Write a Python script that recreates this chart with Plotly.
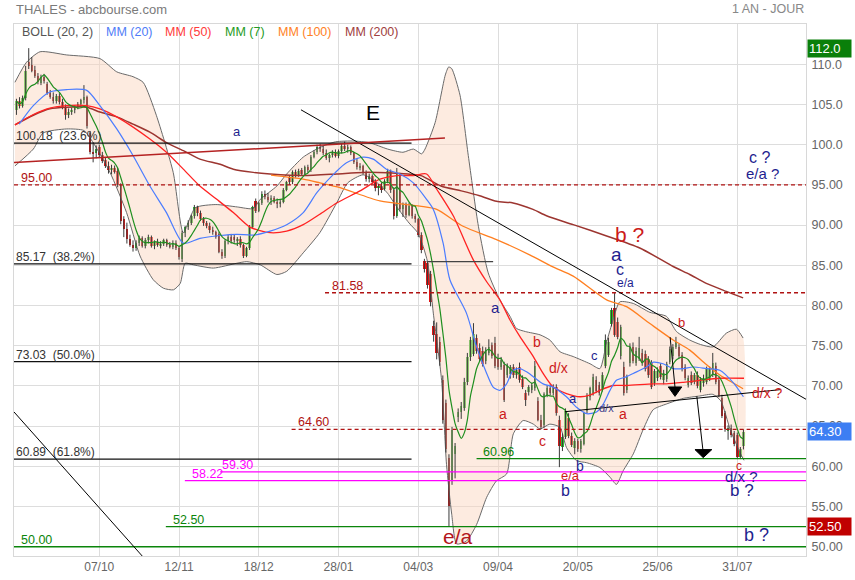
import pandas as pd
import plotly.graph_objects as go

# ---------------- daily candles (index = trading day) ----------------
opens = [104.3,105.4,104.8,105.8,110.3,109.9,109.3,108.5,107.7,108.4,
         107.5,106.4,105.9,105.4,106.1,105.3,104.7,103.7,104.1,104.3,
         104.7,105.1,105.5,105.9,101.5,99.1,98.9,99.7,98.7,98.1,
         97.4,96.9,97.1,96.7,95.0,90.7,89.5,88.3,87.5,87.1,
         87.8,88.4,87.4,88.1,88.5,87.4,87.9,87.5,87.7,88.1,
         87.5,87.3,87.8,87.1,85.8,89.0,89.7,90.3,91.1,92.2,
         91.5,90.7,90.2,89.9,89.4,89.1,88.9,86.7,86.1,88.0,
         88.5,88.5,88.1,88.3,87.5,86.2,87.1,89.8,93.0,91.8,
         92.7,93.9,93.5,93.1,93.4,92.9,92.6,92.9,94.4,96.0,
         95.3,96.6,96.2,96.9,96.4,97.2,96.8,98.5,99.1,99.7,
         99.5,99.0,98.4,98.7,99.1,98.6,99.2,99.8,99.4,99.7,
         98.9,97.8,97.2,97.4,96.5,95.7,96.1,95.4,94.6,94.9,
         94.5,95.5,96.7,94.3,91.1,96.1,92.0,92.5,91.3,92.4,
         91.1,90.7,88.8,85.5,85.3,83.9,77.5,76.5,75.5,70.7,
         67.9,61.0,58.3,61.5,66.1,66.7,67.3,70.5,73.6,74.0,
         76.0,74.7,74.3,73.1,74.1,75.1,75.3,73.5,72.4,72.6,
         71.3,71.5,72.3,71.3,72.4,70.9,69.1,69.2,69.5,69.7,
         68.1,65.8,65.1,68.9,69.8,69.1,69.9,65.8,62.4,63.7,
         66.0,63.8,62.3,63.1,62.1,62.8,66.9,68.6,69.1,70.7,
         70.1,69.6,72.5,73.9,77.7,79.7,78.0,73.7,72.4,69.5,
         72.8,74.9,72.9,73.4,74.1,74.0,73.3,72.8,70.4,71.0,
         72.5,70.7,70.9,73.0,73.7,74.9,74.9,73.9,72.4,70.1,
         71.4,70.5,71.4,69.5,70.3,70.5,70.9,71.4,72.5,70.7,
         68.5,66.6,64.4,64.8,64.1,63.9,61.2,62.5]
highs = [105.7,105.9,106.1,109.8,112.0,110.9,109.8,108.9,108.7,108.8,
         107.8,106.8,106.5,106.3,106.4,105.7,105.0,104.5,104.6,104.9,
         105.3,105.7,107.4,106.1,101.7,100.3,99.9,100.0,99.1,98.4,
         97.9,97.5,97.4,97.1,95.2,91.1,90.3,88.8,88.1,88.1,
         88.7,88.6,88.4,88.8,88.7,88.1,88.3,88.0,88.3,88.3,
         87.9,88.1,88.1,87.4,89.3,89.9,90.6,91.3,92.5,92.4,
         91.8,91.0,90.5,90.3,89.8,89.3,89.1,87.0,88.2,88.8,
         88.9,88.8,88.5,88.6,87.7,87.3,90.0,92.4,93.3,92.9,
         94.2,94.3,94.0,93.7,93.6,93.3,93.1,94.6,95.5,96.2,
         96.8,96.9,97.0,97.1,97.4,97.5,98.7,99.3,100.0,100.1,
         99.9,99.4,98.9,99.3,99.4,99.4,100.1,100.4,100.0,99.9,
         99.1,98.2,97.7,97.5,96.8,96.4,96.3,95.7,95.1,95.3,
         95.7,97.0,96.9,94.7,97.1,96.5,92.8,92.8,92.8,92.6,
         91.4,90.9,89.1,85.8,85.5,84.3,78.1,77.9,76.1,71.3,
         68.3,61.5,64.9,62.9,67.2,68.0,71.0,74.1,76.1,77.8,
         76.4,75.3,74.9,74.8,75.8,75.4,76.1,74.0,73.6,73.0,
         72.8,72.6,72.7,72.3,72.9,71.3,69.5,70.1,70.4,73.1,
         68.6,66.4,69.2,70.1,70.2,70.2,70.2,66.3,64.1,67.2,
         66.6,64.2,63.5,63.4,63.4,66.8,69.1,69.9,71.5,71.2,
         70.5,71.7,76.4,76.0,79.7,81.6,78.5,77.6,73.0,71.4,
         75.3,75.4,74.8,76.1,74.6,74.4,73.7,73.2,72.1,72.3,
         72.8,72.0,73.0,74.9,75.2,76.1,75.2,74.2,72.7,71.3,
         71.8,71.6,71.8,71.1,71.4,72.4,72.4,74.1,72.9,71.1,
         68.9,66.9,65.1,65.2,64.4,64.2,62.4,64.6]
lows = [103.7,104.5,104.6,105.5,109.4,109.0,108.3,107.5,107.4,107.6,
        106.2,105.7,105.1,105.1,105.0,104.4,103.1,103.3,103.7,103.9,
        104.4,104.7,105.1,102.0,98.8,97.8,98.3,98.4,97.7,97.1,
        96.4,96.3,96.4,94.7,90.1,88.5,87.7,87.3,86.7,86.8,
        87.4,87.2,87.1,87.7,87.2,87.0,87.3,87.1,87.4,87.3,
        87.1,87.0,86.9,85.7,85.4,88.5,89.4,90.0,90.8,91.1,
        90.5,89.9,89.6,89.0,88.8,88.3,86.5,85.8,85.9,87.6,
        87.7,87.8,87.4,87.2,85.9,86.0,86.9,89.6,91.5,91.6,
        92.5,93.2,92.8,92.5,92.7,92.1,92.2,92.7,94.2,95.0,
        95.1,95.9,96.0,96.2,96.2,96.5,96.6,98.3,98.8,99.1,
        98.7,98.1,97.8,98.4,98.4,98.3,98.9,99.2,99.0,98.7,
        97.6,96.9,96.8,96.3,95.4,95.3,95.1,94.2,93.7,94.0,
        94.3,95.2,94.0,90.7,90.9,91.7,91.0,90.9,91.1,90.8,
        90.3,88.5,86.5,84.1,82.1,79.9,75.5,73.3,72.5,65.3,
        61.7,52.5,57.7,58.5,65.5,65.9,66.9,70.1,73.1,73.7,
        74.0,73.0,72.4,72.7,73.8,73.4,72.2,72.0,72.0,68.0,
        71.0,70.9,71.0,70.9,70.4,69.6,67.5,68.8,69.1,69.4,
        65.6,64.6,64.8,68.6,68.8,68.8,66.3,59.9,61.9,63.4,
        63.5,62.4,61.5,61.8,61.7,62.6,66.6,68.2,68.8,69.1,
        68.8,69.3,72.2,73.6,77.4,76.1,75.8,73.3,68.8,69.1,
        72.4,72.8,72.5,73.1,72.5,71.8,71.0,69.6,70.0,70.6,
        70.8,70.2,70.5,72.7,73.3,74.6,73.4,71.8,70.7,69.8,
        70.1,70.2,69.7,69.2,69.9,70.2,70.6,71.1,70.2,68.6,
        66.0,64.3,63.3,63.6,62.5,60.9,60.9,62.1]
closes = [105.4,104.8,105.8,109.1,109.8,109.2,108.5,107.8,108.4,107.9,
          106.4,105.9,105.4,106.1,105.3,104.7,103.7,104.1,104.3,104.7,
          105.1,105.5,105.9,102.3,99.1,98.9,99.4,98.7,98.0,97.3,
          96.9,97.1,96.6,95.0,90.5,89.5,88.3,87.5,87.1,87.8,
          88.4,87.4,88.1,88.5,87.4,87.9,87.5,87.7,88.1,87.5,
          87.3,87.8,87.1,86.0,89.0,89.7,90.3,91.1,92.2,91.5,
          90.7,90.2,89.9,89.4,89.1,88.5,86.7,86.1,88.0,88.5,
          88.0,88.1,88.3,87.5,86.2,87.1,89.8,92.2,91.8,92.7,
          93.9,93.5,93.1,93.4,92.9,92.6,92.9,94.4,95.3,95.3,
          96.6,96.2,96.7,96.4,97.2,96.8,98.5,99.1,99.7,99.5,
          99.0,98.4,98.7,99.1,98.6,99.2,99.8,99.4,99.7,98.9,
          97.8,97.2,97.4,96.5,95.7,96.1,95.4,94.6,94.9,94.3,
          95.5,96.7,94.3,91.1,96.4,92.0,92.5,91.3,92.4,91.1,
          90.7,88.8,86.9,84.5,82.5,80.4,76.3,74.1,73.0,65.7,
          62.2,55.1,64.5,62.5,66.8,67.5,70.5,73.6,75.7,76.5,
          74.3,73.3,72.7,74.4,74.9,73.7,72.5,72.4,73.2,68.3,
          72.5,72.3,71.3,72.0,70.7,69.9,68.3,69.9,70.1,72.5,
          65.8,64.9,69.0,69.8,69.1,69.9,66.6,62.5,63.7,66.9,
          63.8,62.7,63.1,62.1,63.2,66.6,68.8,69.7,71.1,69.4,
          69.1,71.3,75.7,75.5,79.4,76.3,76.1,77.3,69.1,71.1,
          74.9,73.1,74.3,74.7,72.8,72.1,71.3,69.9,71.8,71.9,
          71.1,71.6,72.7,74.6,74.9,75.5,73.7,72.1,71.0,71.0,
          70.4,71.3,70.0,70.8,71.0,72.1,72.1,72.9,70.5,68.9,
          66.3,64.6,64.8,63.9,62.8,61.2,62.1,64.3]

tick_idx = [27, 53, 79, 105, 131, 157, 183, 209, 235]
tick_labels = ["07/10", "12/11", "18/12", "28/01", "04/03", "09/04", "20/05", "25/06", "31/07"]

# ---------------- indicators (index, value) ----------------
mm20_x = [0.9,5.5,10.9,16.4,22.9,27.2,32.7,38,43.5,48.9,54.4,59.8,66.4,71.8,77.2,82.7,88.1,93.5,98,104,
          107.6,113,116.3,120.6,125,129.4,133.7,135.9,139.1,141.3,146.7,150,153.3,155.4,157.6,159.8,161.9,
          164.1,166.3,168.5,171.7,175,179.3,182.6,185.9,189.1,191.3,193.5,195.6,198.9,201.1,205.4,207.6,
          210.8,214.1,217.4,220.6,225,229.3,233.8,237]
mm20_y = [102.55,104.85,106.55,106.85,106.75,104.85,101.95,98.65,94.85,91.55,87.75,88.35,88.7,88.85,88.75,
          89.25,90.05,91.55,94.05,96.55,97.75,98.45,98.2,96.95,96.35,95.25,93.2,91.95,87.75,83.2,79.05,
          74.85,71.55,69.85,69.45,70.25,71.95,72.15,71.75,71.15,70.25,69.85,68.65,67.35,66.55,66.75,67.75,
          69.45,70.7,71.15,71.55,72.35,72.95,72.75,72.15,72.15,72.35,72.15,71.95,70.35,68.65]

mm50_x = [-0.5,5.5,10.9,16.4,22.9,27.2,32.7,43.5,48.9,54.4,59.8,65.3,70.7,76.1,82.7,88.1,93.5,98.9,104.4,
          112,118.5,124,129.4,133.7,137,142.4,148.9,153.3,157.6,160.9,164.1,168.5,171.7,175,179.3,183.7,
          186.9,190.2,194.5,198.9,207.6,211.9,217.4,222.8,229.3,237.2]
mm50_y = [102.45,103.75,104.55,104.85,104.85,104.45,103.45,100.7,99.05,96.95,94.85,93.2,91.55,89.75,89.05,
          89.25,90.05,91.35,92.75,94.25,95.7,96.15,96.15,96.35,94.45,91.15,85.7,82.95,80.7,78.2,76.15,
          73.65,71.55,69.85,69.05,68.65,68.85,69.45,70.05,70.05,70.25,70.25,70.45,70.7,70.95,70.95]

mm100_x = [83,93.5,98.9,105.5,118.5,131.5,137,145.6,156.5,167.3,174.9,181.5,192.4,198.9,206.5,214.1,219.5,
           224.9,229.3,236.9]
mm100_y = [96.2,95.7,95.25,94.65,93.0,92.35,91.95,89.85,88.2,86.3,84.8,83.65,80.7,79.85,77.75,75.7,74.45,
           72.65,71.35,69.65]

mm200_x = [-0.5,5.5,10.9,16.4,22.9,27.2,32.7,38,43.5,48.9,54.4,59.8,66.4,70.7,77.2,82.7,93.5,104.4,113,
           127.6,131.9,138.4,145,151,156.5,161.9,168.4,172.8,181.5,192.4,203.2,214.1,219.5,224.9,231.4,236.9]
mm200_y = [102.45,103.65,104.45,104.65,104.65,104.05,103.45,102.55,101.55,100.25,99.25,98.2,97.55,96.95,
           96.55,96.35,96.15,96.35,96.55,96.35,96.15,94.85,94.25,93.65,92.95,92.75,91.95,91.15,90.05,
           88.65,87.15,84.85,83.85,82.75,81.75,80.95]

bb_up_x = [-0.5,3.3,7.7,16.4,27.2,32.7,38,41.3,45.6,51.1,54.4,58.3,65,72,77.2,79.5,84.9,88.1,93.5,98.9,
           104,110,115,121,126,129.4,132.1,133.2,136.5,139.8,140.9,141.9,144.6,147.3,150.6,153.8,157.6,
           160.9,163,166,170.7,173.9,177.2,181.5,187,190.2,192.4,194.5,196.7,201.1,206.5,211.9,215.2,
           219.5,223,227.1,231.4,234.7,236.9]
bb_up_y = [107.75,110.25,111.55,111.15,110.7,109.05,108.45,107.75,103.65,96.55,89.05,92.15,92.55,92.25,
           92.05,93.2,94.85,96.35,98.45,99.65,100.35,100.45,100.25,99.45,99.05,99.45,98.85,99.45,102.75,
           108.65,109.65,109.45,106.15,98.65,89.85,84.05,80.7,78.65,77.15,76.75,76.35,75.7,74.25,73.65,
           72.75,72.15,75.45,78.2,80.45,80.25,79.15,78.65,76.75,75.7,75.15,74.85,76.55,77.05,75.95]

bb_lo_x = [-0.5,5.5,8.7,16.4,22,25,30.5,35.9,40.3,44.6,47.9,51.2,53.4,55,57.7,64.2,71.8,75.1,79.5,84.9,
           88.1,93.5,98.9,104.4,108,113,117,121,124,128,131,134,135.9,138.6,140.2,141.9,143.5,146.7,150,
           153.3,156.5,159.8,162,165.2,168.5,170.7,173.9,177.2,179.3,182.6,185.9,190.2,193.5,195.6,197.8,
           201.1,204.4,207.6,211.9,217.4,222.8,227,229.6,232.8,236.1,237.2]
bb_lo_y = [97.35,99.45,101.45,101.95,101.75,100.25,96.55,91.55,86.15,83.2,82.15,81.95,82.75,85.25,85.05,
           84.65,85.25,85.45,85.05,83.85,84.25,86.55,89.05,92.75,95.25,96.25,95.45,93.95,92.25,90.25,
           88.95,85.45,79.05,70.7,60.25,54.05,50.35,50.7,52.75,56.15,58.2,59.05,64.05,65.7,65.25,64.65,
           65.25,64.85,62.35,60.7,60.45,59.85,58.65,57.75,59.45,61.55,64.65,67.05,67.75,68.45,68.75,
           68.95,68.15,64.45,61.55,60.75]

# ---------------- drawn analysis objects ----------------
fib_levels = [100.18, 85.17, 73.03, 60.89]
fib_names = ["100.18  (23.6%)", "85.17  (38.2%)", "73.03  (50.0%)", "60.89  (61.8%)"]
fib_end = 128.8

RED_D, GREEN, MAG = "#b01212", "#0b850b", "#ff00ff"
lvl_values = [95.00, 81.58, 64.60, 60.96, 59.30, 58.22, 52.50, 50.00]
lvl_starts = [-0.8, 100.6, 89.7, 150.0, 66.4, 54.9, 48.7, -0.8]
lvl_colors = [RED_D, RED_D, RED_D, GREEN, MAG, MAG, GREEN, GREEN]
lvl_dashed = [True, True, True, False, False, False, False, False]
lvl_label_x = [0.9, 102.2, 91.1, 151.4, 66.4, 56.6, 50.4, 0.8]

trend_x0 = [92.76, -0.8, -0.8, 178.8, 133.7, 213.1, 221.8]
trend_y0 = [104.33, 97.77, 66.76, 66.79, 85.45, 76.06, 68.72]
trend_x1 = [257.4, 139.7, 41.35, 248.9, 155.4, 214.7, 223.8]
trend_y1 = [68.34, 100.81, 48.7, 69.53, 85.45, 69.8, 62.0]
trend_col = ["#000000", "#b52222", "#000000", "#000000", "#444444", "#000000", "#000000"]
trend_w = [1, 1.5, 1, 1, 1.2, 1, 1]

heads = [[(212.5, 69.87), (216.9, 69.87), (214.7, 68.7)],
         [(221.2, 62.08), (226.7, 62.08), (223.9, 61.08)]]

NAVY, RED = "#1f1f8f", "#cc1a1a"
wave_text = ["E", "a", "c ?", "e/a ?", "b ?", "a", "c", "e/a", "a", "b", "d/x", "c", "a", "d/x",
             "a", "c", "a", "b", "e/a", "b", "b", "e/a", "d/x ?", "c", "d/x ?", "b ?", "b ?"]
wave_x = [116.1, 71.9, 242.4, 243.2, 200.0, 195.5, 196.8, 198.4, 156.2, 169.7, 176.6, 188.3, 181.6, 192.5,
          158.6, 171.5, 197.8, 216.8, 180.5, 183.7, 179.0, 144.0, 245.0, 235.7, 236.5, 236.4, 241.3]
wave_y = [104.0, 101.6, 98.4, 96.4, 88.8, 86.4, 84.5, 82.85, 79.8, 75.45, 72.2, 73.8, 68.4, 67.2,
          66.5, 63.1, 66.5, 77.9, 58.8, 60.1, 57.0, 51.3, 69.1, 60.0, 58.7, 57.0, 51.4]
wave_col = ["#000000", NAVY, NAVY, NAVY, RED, NAVY, NAVY, NAVY, NAVY, RED, RED, NAVY, NAVY, "#3a3a8a",
            RED, RED, RED, RED, RED, NAVY, NAVY, "#b3141b", RED, RED, NAVY, NAVY, NAVY]
wave_size = [21, 13, 16, 15, 21, 19, 16, 12, 15, 14, 14, 13, 13, 11,
             14, 14, 14, 13, 13, 14, 16, 21, 14, 12, 15, 17, 18]

legend_text = ["BOLL (20, 2)", "MM (20)", "MM (50)", "MM (7)", "MM (100)", "MM (200)"]
legend_col = ["#555555", "#4f7cf7", "#ff3b3b", "#239a23", "#ff8125", "#a04040"]
legend_px = [20, 104, 163, 223, 276, 343]

mark_vals = [112.0, 64.30, 52.50]
mark_text = ["112.0", "64.30", "52.50"]
mark_col = ["#0a7f0a", "#3d7ef3", "#c00000"]

# ---------------- figure ----------------
n = min(len(opens), len(highs), len(lows), len(closes))
idx = list(range(n))
mm7 = pd.Series(closes[:n]).rolling(7, min_periods=1).mean()

fig = go.Figure()

# Bollinger area
fig.add_trace(go.Scatter(x=bb_up_x + bb_lo_x[::-1], y=bb_up_y + bb_lo_y[::-1], fill="toself",
                         fillcolor="rgba(250,214,190,0.48)", line=dict(width=0, shape="spline", smoothing=0.6),
                         mode="lines", hoverinfo="skip"))
fig.add_trace(go.Scatter(x=bb_up_x, y=bb_up_y, mode="lines",
                         line=dict(color="#6a6a6a", width=1, shape="spline", smoothing=0.6), hoverinfo="skip"))
fig.add_trace(go.Scatter(x=bb_lo_x, y=bb_lo_y, mode="lines",
                         line=dict(color="#6a6a6a", width=1, shape="spline", smoothing=0.6), hoverinfo="skip"))

# wicks
wx, wy = [], []
for i in idx:
    wx += [i, i, None]
    wy += [lows[i], highs[i], None]
fig.add_trace(go.Scatter(x=wx, y=wy, mode="lines", line=dict(color="#3a3a3a", width=1), hoverinfo="skip"))

# bodies
up = [i for i in idx if closes[i] >= opens[i]]
dn = [i for i in idx if closes[i] < opens[i]]
fig.add_trace(go.Bar(x=up, base=[opens[i] for i in up], y=[max(closes[i] - opens[i], 0.08) for i in up],
                     width=0.8, marker=dict(color="#2fbf2f", line=dict(width=0)), hoverinfo="skip"))
fig.add_trace(go.Bar(x=dn, base=[closes[i] for i in dn], y=[opens[i] - closes[i] for i in dn],
                     width=0.8, marker=dict(color="#e01515", line=dict(width=0)), hoverinfo="skip"))

# moving averages
fig.add_trace(go.Scatter(x=mm200_x, y=mm200_y, mode="lines",
                         line=dict(color="#9c3530", width=1.5, shape="spline", smoothing=0.7), hoverinfo="skip"))
fig.add_trace(go.Scatter(x=mm100_x, y=mm100_y, mode="lines",
                         line=dict(color="#ff7f20", width=1.3, shape="spline", smoothing=0.7), hoverinfo="skip"))
fig.add_trace(go.Scatter(x=mm50_x, y=mm50_y, mode="lines",
                         line=dict(color="#ff2222", width=1.3, shape="spline", smoothing=0.7), hoverinfo="skip"))
fig.add_trace(go.Scatter(x=mm20_x, y=mm20_y, mode="lines",
                         line=dict(color="#4a7cff", width=1.2, shape="spline", smoothing=0.7), hoverinfo="skip"))
fig.add_trace(go.Scatter(x=idx, y=mm7, mode="lines",
                         line=dict(color="#1f8f1f", width=1.2, shape="spline", smoothing=0.6), hoverinfo="skip"))

shapes, annos = [], []
FONT = "Arial, Liberation Sans, sans-serif"
nb = lambda s: s.replace("  ", "\u00a0\u00a0")

for v, name in zip(fib_levels, fib_names):
    shapes.append(dict(type="line", xref="x", yref="y", x0=-0.8, x1=fib_end, y0=v, y1=v,
                       line=dict(color="#111111", width=1.3), layer="above"))
    annos.append(dict(x=-0.8, y=v, xref="x", yref="y", text=nb(name), showarrow=False, xanchor="left",
                      yanchor="bottom", yshift=-2, font=dict(size=12, color="#333333", family=FONT)))

for v, s, c, d, lx in zip(lvl_values, lvl_starts, lvl_colors, lvl_dashed, lvl_label_x):
    shapes.append(dict(type="line", xref="x", yref="y", x0=s, x1=257.4, y0=v, y1=v,
                       line=dict(color=c, width=1.3, dash="4px,3px" if d else "solid"), layer="above"))
    annos.append(dict(x=lx, y=v, xref="x", yref="y", text=f"{v:.2f}", showarrow=False, xanchor="left",
                      yanchor="bottom", yshift=-2, font=dict(size=12.5, color=c, family=FONT)))

for x0, y0, x1, y1, c, w in zip(trend_x0, trend_y0, trend_x1, trend_y1, trend_col, trend_w):
    shapes.append(dict(type="line", xref="x", yref="y", x0=x0, y0=y0, x1=x1, y1=y1,
                       line=dict(color=c, width=w), layer="above"))

for h in heads:
    path = "M {} {} L {} {} L {} {} Z".format(h[0][0], h[0][1], h[1][0], h[1][1], h[2][0], h[2][1])
    shapes.append(dict(type="path", xref="x", yref="y", path=path, fillcolor="#000000",
                       line=dict(color="#000000", width=1), layer="above"))

for t, x, y, c, s in zip(wave_text, wave_x, wave_y, wave_col, wave_size):
    annos.append(dict(x=x, y=y, xref="x", yref="y", text=t, showarrow=False, xanchor="center",
                      yanchor="middle", borderpad=0, font=dict(size=s, color=c, family=FONT)))

for t, c, px in zip(legend_text, legend_col, legend_px):
    annos.append(dict(x=(px - 14) / 792, y=1, xref="paper", yref="paper", text=t, showarrow=False,
                      xanchor="left", yanchor="middle", yshift=-8, font=dict(size=12.5, color=c, family=FONT)))

annos.append(dict(x=0, y=1, xref="paper", yref="paper", text="THALES - abcbourse.com", showarrow=False,
                  xanchor="left", yanchor="middle", yshift=15, font=dict(size=13, color="#7a7a7a", family=FONT)))
annos.append(dict(x=1, y=1, xref="paper", yref="paper", text="1 AN - JOUR", showarrow=False,
                  xanchor="right", yanchor="middle", yshift=15, font=dict(size=12.5, color="#888888", family=FONT)))

for v, t, c in zip(mark_vals, mark_text, mark_col):
    annos.append(dict(x=1, y=v, xref="paper", yref="y", text=t, showarrow=False, xanchor="left",
                      yanchor="middle", xshift=1, bgcolor=c, width=41, height=15, align="left", borderpad=1,
                      font=dict(size=13, color="#ffffff", family=FONT)))

ytv = list(range(50, 115, 5))
ytt = [f"{v:.1f}" if v >= 100 else f"{v:.2f}" for v in ytv]

fig.update_layout(
    width=855, height=580, margin=dict(l=14, r=49, t=24, b=24, autoexpand=False),
    paper_bgcolor="white", plot_bgcolor="white", showlegend=False, barmode="overlay", bargap=0,
    shapes=shapes, annotations=annos, font=dict(family=FONT),
    xaxis=dict(range=[-0.8, 257.4], tickvals=tick_idx, ticktext=tick_labels, showgrid=True,
               gridcolor="#dddddd", gridwidth=1, zeroline=False, showline=True, linecolor="#d8d8d8",
               mirror=True, ticks="", tickfont=dict(size=12, color="#666666", family=FONT),
               fixedrange=True, automargin=False),
    yaxis=dict(range=[48.85, 115.0], side="right", tickvals=ytv, ticktext=ytt, showgrid=True,
               gridcolor="#dddddd", gridwidth=1, zeroline=False, showline=True, linecolor="#d8d8d8",
               mirror=True, ticks="outside", ticklen=2, tickcolor="rgba(0,0,0,0)",
               tickfont=dict(size=12.5, color="#666666", family=FONT), fixedrange=True, automargin=False),
)

fig.write_html("out.html", config={"displayModeBar": False},
               post_script="document.body.style.margin='0px';document.body.style.padding='0px';"
                           "document.body.style.overflow='hidden';")
